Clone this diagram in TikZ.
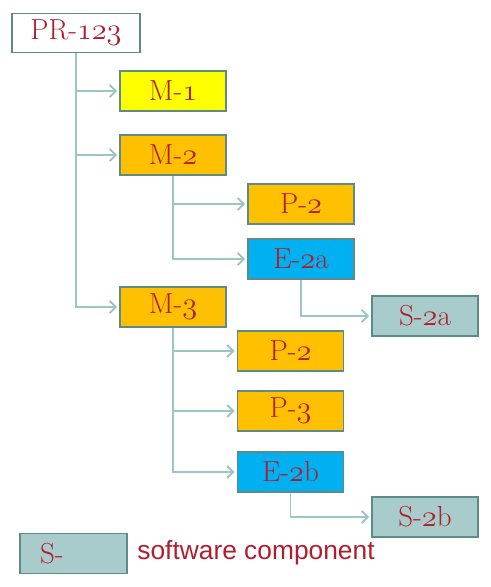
\documentclass[tikz,border=0pt]{standalone}
\usepackage{fontspec}
\usetikzlibrary{arrows.meta}
\newfontfamily\legendfont{Liberation Sans}
\definecolor{boxline}{HTML}{5E8A87}
\definecolor{connline}{HTML}{9CC6C4}
\definecolor{labelred}{HTML}{B01E2E}
\definecolor{myellow}{HTML}{FFFF00}
\definecolor{morange}{HTML}{FFC000}
\definecolor{eblue}{HTML}{00B0F0}
\definecolor{sgrey}{HTML}{A8CCCB}
\newcommand{\osn}[1]{{\usefont{OML}{cmm}{m}{it}#1}}

\begin{document}
\begin{tikzpicture}[x=0.02cm,y=-0.02cm,
	part/.style={draw=boxline,line width=1.1pt,minimum width=2.12cm,minimum height=0.8cm,
		inner sep=0pt,text=labelred,font=\fontsize{16.5}{18}\selectfont},
	mbox/.style={part,fill=morange},
	ebox/.style={part,fill=eblue},
	sbox/.style={part,fill=sgrey},
	conn/.style={draw=connline,line width=1.1pt,shorten >=0.04cm,
		-{Straight Barb[length=0.12cm,width=0.24cm,line width=1.1pt]}},
	elbow/.style={to path={|- (\tikztotarget)}}]
	\useasboundingbox (0,0) rectangle (490,587);

	\node[part,fill=white,minimum width=2.56cm,minimum height=0.78cm] at (76,33)(pr){PR-\osn{123}};
	\node[part,fill=myellow] at (173,91)(m1){M-\osn{1}};
	\node[mbox] at (173,155)(m2){M-\osn{2}};
	\node[mbox] at (173,307)(m3){M-\osn{3}};
	\path[conn](pr)edge[elbow](m1)(pr)edge[elbow](m2)(pr)edge[elbow](m3);

	\node[mbox] at (301,204)(p2a){P-\osn{2}};
	\node[ebox] at (301,259)(e2a){E-\osn{2}a};
	\node[sbox] at (425,316)(s2a){S-\osn{2}a};
	\path[conn](m2)edge[elbow](p2a)(m2)edge[elbow](e2a)(e2a)edge[elbow](s2a);

	\node[mbox] at (290.5,351)(p2b){P-\osn{2}};
	\node[mbox] at (290.5,411)(p3){P-\osn{3}};
	\node[ebox] at (290.5,472)(e2b){E-\osn{2}b};
	\node[sbox] at (425,517)(s2b){S-\osn{2}b};
	\path[conn](m3)edge[elbow](p2b)(m3)edge[elbow](p3)(m3)edge[elbow](e2b)(e2b)edge[elbow](s2b);

	\node[sbox,text width=1.34cm,inner xsep=0.4cm,align=left] at (73.5,553.5)(key){S-};
	\node[anchor=west,inner sep=0pt,text=labelred,font=\legendfont\fontsize{15}{18}\selectfont]
		at (137,553)(keytext){software component};
\end{tikzpicture}
\end{document}
